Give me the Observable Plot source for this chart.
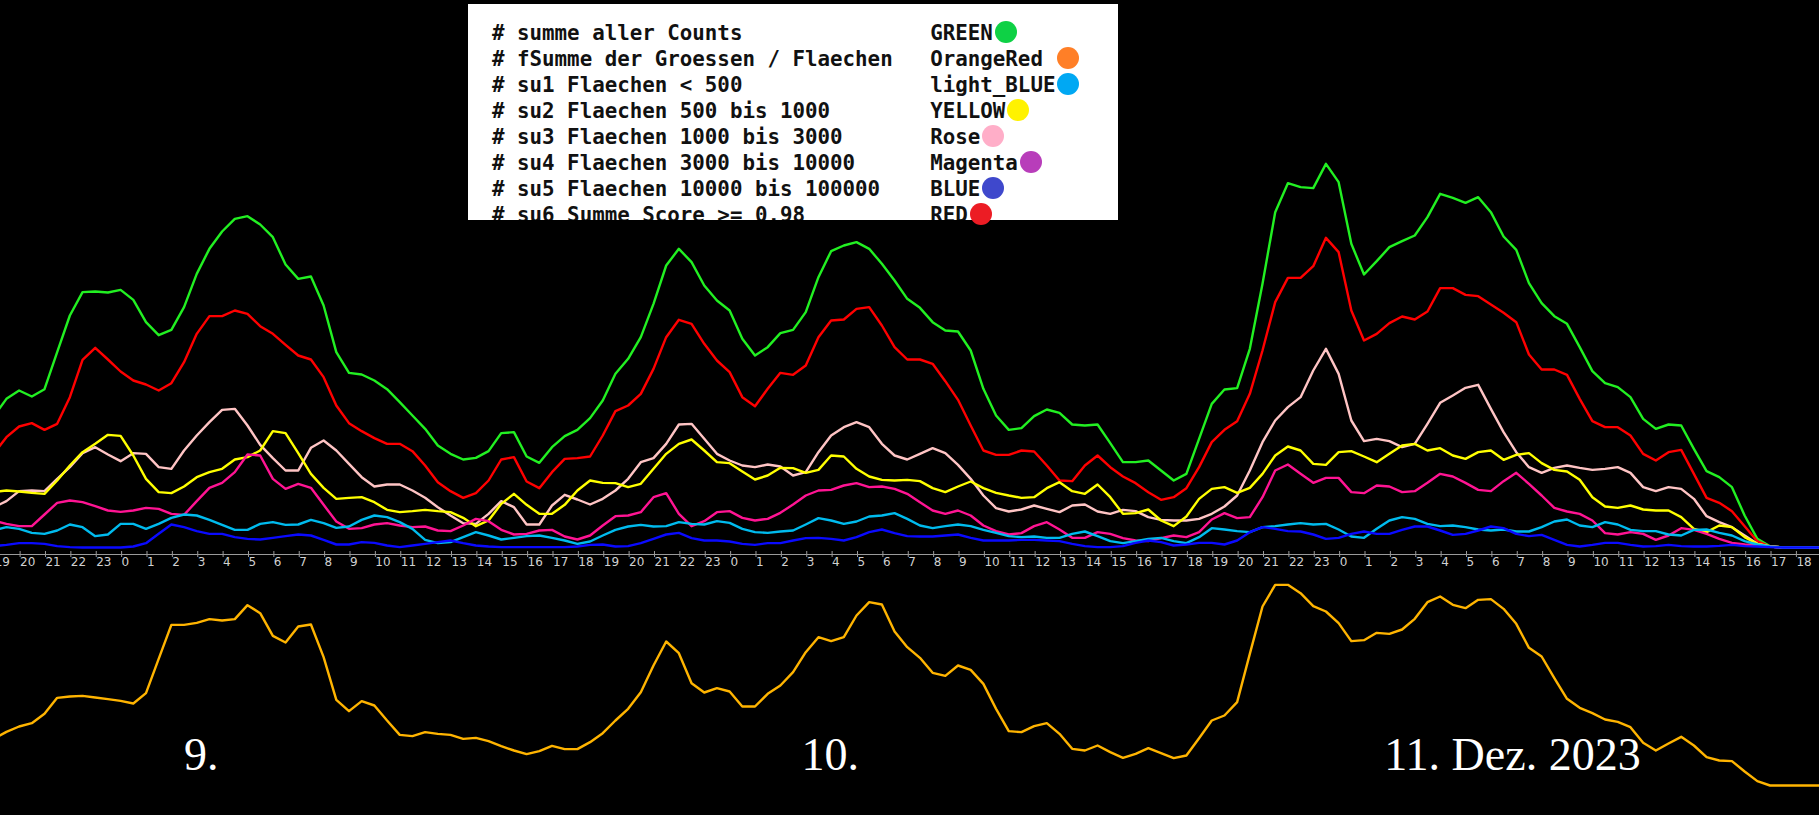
<!DOCTYPE html>
<html><head><meta charset="utf-8">
<script src="https://cdn.jsdelivr.net/npm/d3@7"></script>
<script src="https://cdn.jsdelivr.net/npm/@observablehq/plot@0.6"></script>
<style>
html,body{margin:0;padding:0;background:#000;}
#wrap{position:relative;width:1819px;height:815px;background:#000;overflow:hidden;}
#wrap svg{position:absolute;left:0;top:0;}
#legend{position:absolute;left:468px;top:4px;width:650px;height:216px;background:#fff;overflow:hidden;}
#legend pre{margin:0;padding:16px 0 0 24px;font:bold 20.8px/26px "DejaVu Sans Mono",monospace;color:#111;}
#dots{position:absolute;left:492px;top:0;width:700px;height:240px;font:bold 20.8px "DejaVu Sans Mono",monospace;}
.dot{position:absolute;width:22px;height:22px;border-radius:50%;}
</style></head>
<body><div id="wrap"></div>
<script>
// ---- time grid (30-minute samples starting 8 Dec 2023 19:00) ----
const sampleStart = Date.UTC(2023, 11, 8, 19, 0);
const stepMinutes = 30;
const viewStart = new Date(Date.UTC(2023, 11, 8, 19, 16));
const viewEnd = new Date(Date.UTC(2023, 11, 11, 18, 57));

// ---- series values (arbitrary count units) ----
const summeAllerCounts = [
 393,446,471,453,475,586,696,766,768,765,
 773,743,676,637,653,721,821,896,948,986,
 994,969,931,849,806,813,726,586,524,519,
 501,475,436,396,356,306,281,264,269,289,
 343,346,273,254,301,334,353,388,441,521,
 566,631,731,846,896,856,786,741,711,626,
 576,601,643,653,706,811,889,906,916,896,
 851,801,746,719,676,651,648,591,476,396,
 353,358,394,414,404,369,366,369,313,256,
 256,261,231,201,221,326,431,474,478,596,
 791,1006,1093,1081,1078,1151,1096,911,819,859,
 901,919,936,991,1061,1049,1034,1051,1006,933,
 893,793,733,694,671,601,529,493,481,451,
 386,356,369,366,296,229,211,181,96,26,
 4,0,0,0,0];
const fSumme = [
 140,161,177,187,215,263,267,269,264,259,
 254,246,277,380,482,482,488,499,495,499,
 541,517,449,429,477,483,385,257,223,253,
 240,195,152,148,160,155,152,140,143,133,
 118,105,94,103,119,109,109,130,157,195,
 230,280,360,432,397,307,279,292,282,237,
 237,275,300,340,400,445,433,445,510,550,
 543,462,415,383,338,329,360,347,305,230,
 163,160,178,187,155,110,105,120,100,83,
 95,112,97,82,90,142,195,210,250,395,
 537,602,602,577,538,522,487,433,436,458,
 455,468,500,550,567,542,532,557,559,530,
 485,413,387,322,260,233,217,198,191,175,
 128,105,126,146,120,85,75,73,42,13,
 0,0,0,0,0];
const su1 = [
 51,61,56,44,41,51,69,61,34,39,
 71,71,56,71,89,99,96,83,68,53,
 53,71,76,68,69,83,73,59,63,83,
 96,91,76,56,23,13,16,31,46,36,
 24,29,34,36,29,21,11,18,36,53,
 63,68,63,64,76,71,69,79,74,56,
 46,44,48,51,69,88,81,71,78,93,
 96,103,86,66,58,64,69,64,53,44,
 34,31,33,29,29,41,48,34,19,13,
 19,26,29,19,13,31,58,54,49,46,
 61,64,69,73,69,71,54,33,29,56,
 81,91,86,71,64,66,61,54,51,54,
 48,48,61,78,84,66,61,76,69,53,
 49,49,39,36,53,54,44,36,19,9,
 3,0,0,0,0];
const su2 = [
 167,171,168,164,161,201,246,286,311,338,
 335,276,206,166,163,183,211,226,236,264,
 271,291,349,343,283,221,179,146,149,151,
 136,113,106,109,113,109,106,89,64,81,
 131,161,128,101,101,128,171,201,194,193,
 181,191,236,281,311,324,291,256,253,228,
 204,216,239,238,224,233,276,273,236,213,
 203,201,203,199,178,166,183,198,178,164,
 156,149,151,178,196,169,161,189,151,101,
 103,114,81,64,93,146,176,181,164,179,
 221,276,303,291,251,248,286,289,273,256,
 281,306,311,291,298,276,266,286,291,263,
 278,283,253,233,228,203,151,123,119,126,
 114,111,111,91,56,46,66,61,31,11,
 3,0,0,0,0];
const su3 = [
 121,139,169,171,169,206,241,283,301,279,
 259,283,281,241,236,291,336,376,413,416,
 366,308,268,231,231,299,321,291,251,211,
 183,189,189,171,149,121,96,73,71,101,
 139,121,69,69,126,158,144,129,146,171,
 206,256,268,311,369,371,326,281,261,246,
 241,249,243,216,226,286,336,361,376,361,
 311,276,264,281,298,283,248,206,156,118,
 108,114,126,116,106,126,129,108,101,113,
 109,91,83,81,81,86,101,123,156,231,
 316,381,421,451,531,596,521,381,319,326,
 319,301,311,371,434,456,479,488,416,346,
 286,241,224,239,246,239,233,236,241,224,
 181,169,181,176,146,94,76,61,36,11,
 3,0,0,0,0];
const su4 = [
 81,71,64,64,99,134,141,136,124,111,
 107,111,119,116,101,98,139,179,194,226,
 279,276,206,176,191,179,128,78,56,58,
 69,73,66,61,63,51,49,66,86,79,
 53,39,41,51,53,33,24,36,66,94,
 96,106,151,163,101,64,79,106,109,89,
 81,86,104,129,156,171,173,186,193,181,
 183,176,161,136,111,101,111,96,66,49,
 39,43,64,76,54,29,29,46,41,28,
 21,19,28,36,31,46,84,103,88,91,
 151,231,249,221,194,209,209,166,163,186,
 183,166,169,194,221,213,194,173,169,199,
 224,191,156,119,108,101,81,43,39,46,
 41,23,36,58,53,41,26,14,9,6,
 3,0,0,0,0];
const su5 = [
 4,8,13,13,11,4,1,0,0,0,
 0,3,13,41,69,61,49,41,41,31,
 26,24,29,34,39,36,23,9,9,16,
 14,6,1,6,11,16,21,13,6,3,
 1,1,1,1,1,1,3,8,9,3,
 4,13,26,39,44,28,21,21,18,11,
 8,13,13,21,28,29,26,21,31,46,
 54,43,34,33,33,36,39,29,21,21,
 21,23,23,21,19,11,4,1,1,4,
 14,21,16,6,9,14,14,9,21,46,
 61,56,49,48,39,26,29,41,48,41,
 41,53,63,63,51,38,41,51,63,58,
 41,34,38,23,8,3,8,14,14,8,
 3,4,8,4,3,3,5,8,4,3,
 1,0,0,0,0];
const su6 = [
 281,331,363,373,353,371,451,563,599,564,
 528,501,489,471,493,556,641,694,694,711,
 701,664,641,608,576,564,511,426,373,349,
 328,311,311,289,246,196,169,149,163,201,
 264,271,198,178,226,266,268,273,336,409,
 426,461,536,631,683,671,611,561,526,451,
 424,476,524,518,546,631,681,684,716,721,
 666,601,564,564,551,499,443,366,291,278,
 278,291,288,246,201,199,246,276,241,213,
 193,166,143,151,178,241,316,353,379,461,
 591,736,809,809,844,929,886,711,621,641,
 673,693,684,708,778,778,758,754,729,704,
 676,579,534,534,518,446,379,361,361,336,
 281,261,286,293,221,149,134,109,64,19,
 3,0,0,0,0];

// ---- legend ----
const legendLabels = [
 "# summe aller Counts",
 "# fSumme der Groessen / Flaechen",
 "# su1 Flaechen < 500",
 "# su2 Flaechen 500 bis 1000",
 "# su3 Flaechen 1000 bis 3000",
 "# su4 Flaechen 3000 bis 10000",
 "# su5 Flaechen 10000 bis 100000",
 "# su6 Summe Score >= 0.98"];
const legendColorNames = ["GREEN","OrangeRed ","light_BLUE","YELLOW","Rose","Magenta","BLUE","RED"];
const legendDotColors = ["#0ed145","#ff7f27","#00a8f3","#fff200","#ffaec8","#b83dba","#3f48cc","#ec1c24"];

// ---- day labels ----
const dayLabelTexts = ["9.", "10.", "11. Dez. 2023"];
const dayLabelTimes = [Date.UTC(2023,11,9,2,30), Date.UTC(2023,11,10,2,50), Date.UTC(2023,11,11,1,48)];

// ---- build ----
const toRows = values => values.map((v, i) => ({time: new Date(sampleStart + i * stepMinutes * 60000), value: v}));
const topSeries = [
 {values: summeAllerCounts, color: "#22f022"},
 {values: su6, color: "#ff0000"},
 {values: su3, color: "#ffc4c4"},
 {values: su2, color: "#ffff00"},
 {values: su4, color: "#ff1493"},
 {values: su1, color: "#00bbee"},
 {values: su5, color: "#0a0aff"}
];
const hourTicks = d3.utcHour.range(new Date(Date.UTC(2023,11,8,19)), new Date(Date.UTC(2023,11,11,19,1)));

const chartA = Plot.plot({
  width: 1819, height: 575,
  marginLeft: 0, marginRight: 0, marginTop: 0, marginBottom: 21,
  style: {background: "#000", color: "#ccc"},
  x: {type: "utc", domain: [viewStart, viewEnd]},
  y: {domain: [0, 1641], range: [547, 0], axis: null},
  marks: [
    ...topSeries.map(s => Plot.line(toRows(s.values), {x: "time", y: "value", stroke: s.color, strokeWidth: 2.4, clip: true})),
    Plot.frame({anchor: "bottom", stroke: "#9a9a9a"}),
    Plot.axisX(hourTicks, {anchor: "bottom", tickSize: 6, tickPadding: 0, tickFormat: d3.utcFormat("%-H"),
      textAnchor: "start", dx: 1, dy: -3, stroke: "#9a9a9a", fill: "#d0d0d0", fontSize: 12, fontFamily: "DejaVu Sans", label: null})
  ]
});

const dayRows = dayLabelTexts.map((t, i) => ({label: t, time: new Date(dayLabelTimes[i])}));
const chartB = Plot.plot({
  width: 1819, height: 815,
  marginLeft: 0, marginRight: 0, marginTop: 0, marginBottom: 0,
  style: {background: "transparent"},
  x: {type: "utc", domain: [viewStart, viewEnd], axis: null},
  y: {domain: [0, 2355], range: [785, 0], axis: null},
  marks: [
    Plot.line(toRows(fSumme), {x: "time", y: "value", stroke: "#ffb400", strokeWidth: 2.4, clip: true}),
    Plot.text(dayRows, {x: "time", text: "label", frameAnchor: "bottom", textAnchor: "start", lineAnchor: "bottom",
      dy: -46, fill: "#fff", fontSize: 46, fontFamily: "Liberation Serif"})
  ]
});

const wrap = document.getElementById("wrap");
wrap.appendChild(chartA);
wrap.appendChild(chartB);

const legend = document.createElement("div");
legend.id = "legend";
const pre = document.createElement("pre");
pre.textContent = legendLabels.map((l, i) => l.padEnd(35, " ") + legendColorNames[i]).join("\n");
legend.appendChild(pre);
wrap.appendChild(legend);

const dots = document.createElement("div");
dots.id = "dots";
legendColorNames.forEach((n, i) => {
  const d = document.createElement("div");
  d.className = "dot";
  d.style.left = `calc(${35 + n.length}ch + 2px)`;
  d.style.top = `${20.5 + 26 * i}px`;
  d.style.background = legendDotColors[i];
  dots.appendChild(d);
});
wrap.appendChild(dots);
</script>
</body></html>
